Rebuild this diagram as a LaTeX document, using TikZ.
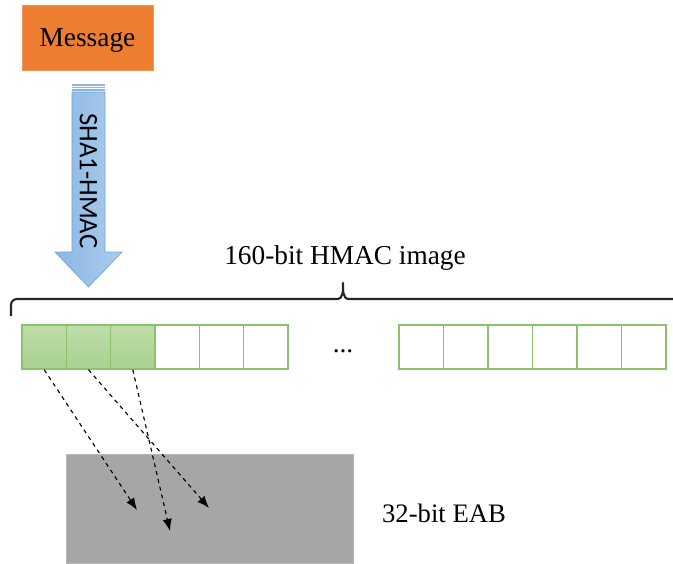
\documentclass[tikz,border=0pt]{standalone}
\usepackage{fontspec}
\setmainfont{Liberation Serif}
\newfontfamily\carlitofont{Carlito}
\usetikzlibrary{arrows.meta}
\definecolor{msgorange}{HTML}{ED7D31}
\definecolor{cellgreen}{HTML}{A9D18E}
\definecolor{celledge}{HTML}{8CC26C}
\definecolor{arrowleft}{HTML}{8DB7E3}
\definecolor{arrowright}{HTML}{AACCEC}
\definecolor{arrowedge}{HTML}{6FA3DA}
\definecolor{eabgray}{HTML}{A6A6A6}
\definecolor{bracegray}{HTML}{262626}
\tikzset{
  cellbox/.style={draw=celledge, line width=1.1pt, minimum width=33.25pt, minimum height=33pt, inner sep=0pt},
  fullcell/.style={cellbox, top color=cellgreen!75, bottom color=cellgreen},
  emptycell/.style={cellbox, fill=white},
  mapline/.style={dashed, line width=0.85pt, -{Latex[length=9pt,width=7pt]}},
  bigtext/.style={font=\fontsize{20.5}{24}\selectfont, inner sep=0pt}
}
\begin{document}
\begin{tikzpicture}[x=0.75pt,y=-0.75pt]
\useasboundingbox (0,0) rectangle (673,563);
% Message
\node[draw=msgorange!80!white, fill=msgorange, minimum width=98pt, minimum height=48.75pt, inner sep=0pt] (msg) at (87.5,37.5) {};
\node[bigtext] (msgtext) at (87.5,40.5) {Message};
% big arrow
\shade[left color=arrowleft, right color=arrowright, draw=arrowedge, line width=0.5pt]
  (72,92) -- (105,92) -- (105,252) -- (122,252) -- (88.5,287) -- (55,252) -- (72,252) -- cycle;
\foreach \yy in {85,87.5,90} {\draw[arrowleft, line width=1.2pt] (72,\yy) -- (105,\yy);}
\node[rotate=-90, inner sep=0pt, font=\carlitofont\fontsize{20}{22}\selectfont] (hmac) at (88.5,181) {SHA1-HMAC};
% brace
\draw[bracegray, line width=1.6pt, line join=round]
  (11,316) -- (11,305) to[out=90,in=180] (17,299) -- (337,299) to[out=0,in=-90] (343,283) to[out=-90,in=180] (349,299) -- (676,299);
\node[bigtext] (lbl) at (345,258) {160-bit HMAC image};
% left cells
\node[fullcell] (c1) at (44.2,347) {};
\node[fullcell] (c2) at (88.5,347) {};
\node[fullcell] (c3) at (132.8,347) {};
\node[emptycell] (c4) at (177.2,347) {};
\node[emptycell] (c5) at (221.5,347) {};
\node[emptycell] (c6) at (265.8,347) {};
% dots
\node[bigtext] (dots) at (343,351) {...};
% right cells
\node[emptycell] (d1) at (421.25,347) {};
\node[emptycell] (d2) at (465.75,347) {};
\node[emptycell] (d3) at (510.25,347) {};
\node[emptycell] (d4) at (554.75,347) {};
\node[emptycell] (d5) at (599.25,347) {};
\node[emptycell] (d6) at (643.75,347) {};
% EAB box
\node[fill=eabgray, draw=eabgray!80!white, line width=0.5pt, minimum width=215.25pt, minimum height=82pt, inner sep=0pt] (eab) at (209.5,509) {};
\node[bigtext, font=\fontsize{20}{24}\selectfont] (eablbl) at (444,513) {32-bit EAB};
% mapping arrows
\coordinate (e1) at (137,510);
\coordinate (e2) at (209,508);
\coordinate (e3) at (170,531);
\draw[mapline] (c1.south) -- (e1);
\draw[mapline] (c2.south) -- (e2);
\draw[mapline] (c3.south) -- (e3);
\end{tikzpicture}
\end{document}
